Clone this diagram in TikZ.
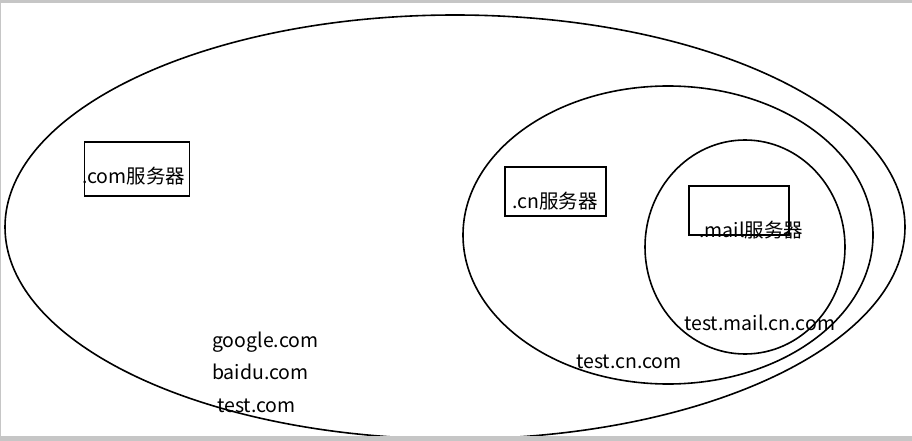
\documentclass[tikz,border=0pt]{standalone}
\usepackage{fontspec}
\setmainfont{Noto Sans CJK SC}
\usetikzlibrary{shapes.geometric}
\tikzset{
  zone/.style={ellipse,draw,line width=1.6pt,inner sep=0pt},
  server/.style={rectangle,draw,line width=1.5pt,inner sep=0pt},
  lbl/.style={inner sep=0pt,anchor=west,font=\fontsize{19.5}{22}\selectfont},
}
\begin{document}
\begin{tikzpicture}[x=1pt,y=-1pt]
\useasboundingbox (0,0) rectangle (912,441);
\node[zone,minimum width=900,minimum height=424] (com) at (455,227) {};
\node[zone,minimum width=410,minimum height=298] (cn) at (668,235) {};
\node[zone,minimum width=200,minimum height=214] (mail) at (745,247) {};
\node[server,minimum width=105,minimum height=54] (comsrv) at (137,169) {};
\node[server,minimum width=101,minimum height=49] (cnsrv) at (555.5,191.5) {};
\node[server,minimum width=100,minimum height=49] (mailsrv) at (739,210.5) {};
\node[lbl] (comname) at (82,176) {.com服务器};
\node[lbl] (cnname) at (512,201) {.cn服务器};
\node[lbl] (mailname) at (699,230) {.mail服务器};
\node[lbl] (google) at (212,342) {google.com};
\node[lbl] (baidu) at (212,372) {baidu.com};
\node[lbl] (testcom) at (217,406) {test.com};
\node[lbl] (testcn) at (576,362) {test.cn.com};
\node[lbl] (testmail) at (684,323) {test.mail.cn.com};
\fill[gray!45] (0,0) rectangle (912,3);
\fill[gray!45] (0,0) rectangle (1,441);
\fill[gray!45] (0,436) rectangle (912,441);
\end{tikzpicture}
\end{document}
